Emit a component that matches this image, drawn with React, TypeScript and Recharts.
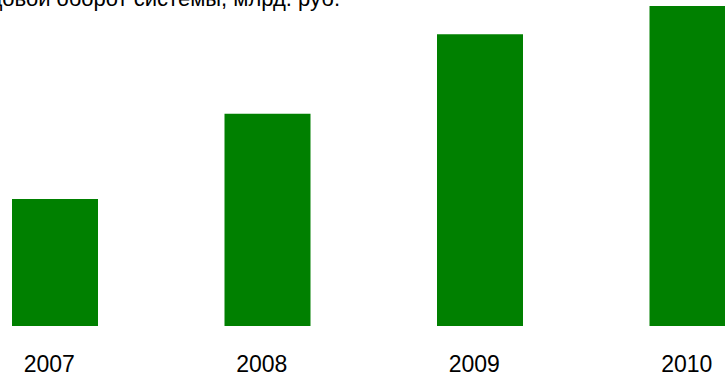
import React from 'react';
import { BarChart, Bar, XAxis, YAxis } from 'recharts';

const years = ['2007', '2008', '2009', '2010'];
const turnover = [39.7, 66.3, 91.2, 100];
const title = 'Годовой оборот системы, млрд. руб.';

const data = years.map((year, i) => ({ year, value: turnover[i] }));

const YearTick: React.FC<any> = ({ x, y, payload }) => (
  <text
    x={x - 6}
    y={y + 46}
    textAnchor="middle"
    fill="#000"
    fontSize={23}
    fontFamily="'Liberation Sans', Arial, sans-serif"
  >
    {payload.value}
  </text>
);

const App: React.FC = () => {
  return (
    <div
      style={{
        position: 'absolute',
        top: 0,
        left: 0,
        width: 725,
        height: 383,
        overflow: 'hidden',
        background: '#fff',
      }}
    >
      <div style={{ position: 'absolute', top: 0, left: -51 }}>
        <BarChart width={850} height={383} data={data} margin={{ top: 6, right: 0, bottom: 0, left: 0 }}>
          <XAxis
            dataKey="year"
            height={57}
            axisLine={false}
            tickLine={false}
            tickSize={0}
            tickMargin={0}
            interval={0}
            tick={<YearTick />}
          />
          <YAxis hide domain={[0, 100]} />
          <Bar dataKey="value" fill="#008000" barSize={86} isAnimationActive={false} />
        </BarChart>
      </div>
      <svg width={725} height={383} style={{ position: 'absolute', top: 0, left: 0, pointerEvents: 'none' }}>
        <text
          x={340}
          y={6}
          textAnchor="end"
          fill="#000"
          fontSize={22}
          fontFamily="'Liberation Sans', Arial, sans-serif"
        >
          {title}
        </text>
      </svg>
    </div>
  );
};

export default App;
